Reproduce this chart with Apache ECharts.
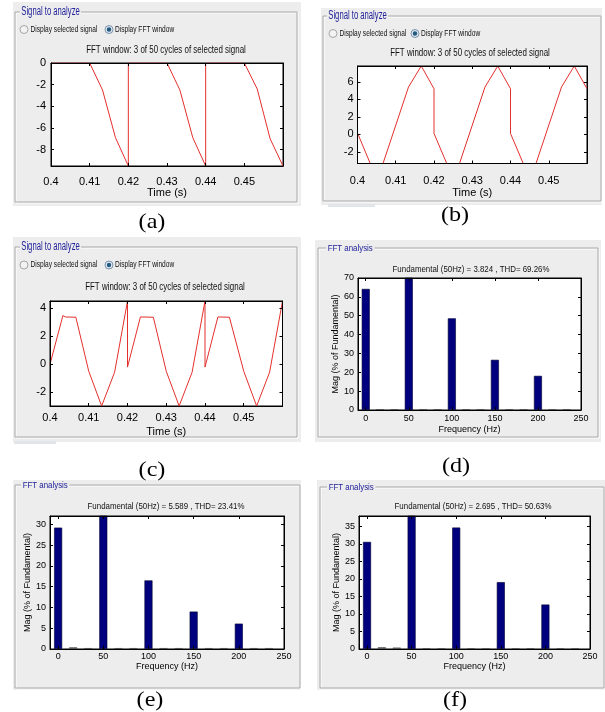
<!DOCTYPE html>
<html><head><meta charset="utf-8">
<script src="https://cdn.jsdelivr.net/npm/echarts@6/dist/echarts.min.js"></script>
<style>html,body{margin:0;padding:0;background:#fff}#c{width:605px;height:712px}</style>
</head><body><div id="c"></div>
<script>
// ---------------- DATA ----------------
// (a) signal in FFT window
const sigA_t = [0.4, 0.41, 0.41333, 0.41667, 0.42, 0.42, 0.43, 0.43333, 0.43667, 0.44, 0.44, 0.45, 0.45333, 0.45667, 0.46];
const sigA_v = [0, 0, -2.5, -6.9, -9.52, 0, 0, -2.5, -6.9, -9.52, 0, 0, -2.4, -7.0, -9.52];
// (b)
const sigB_t = [0.4, 0.40333, 0.40667, 0.41333, 0.41667, 0.42, 0.42, 0.42333, 0.42667, 0.43333, 0.43667, 0.44, 0.44, 0.44333, 0.44667, 0.45333, 0.45667, 0.46];
const sigB_v = [0.15, -3.33, -3.33, 5.4, 7.8, 5.2, 0.1, -3.33, -3.33, 5.4, 7.8, 5.2, 0.1, -3.33, -3.33, 5.4, 7.8, 5.2];
// (c)
const sigC_t = [0.4, 0.40333, 0.404, 0.40667, 0.41, 0.41333, 0.41667, 0.42, 0.42, 0.42333, 0.42667, 0.427, 0.43, 0.43333, 0.43667, 0.44, 0.44, 0.44333, 0.4463, 0.44667, 0.45, 0.45333, 0.45667, 0.46];
const sigC_v = [0, 3.48, 3.38, 3.36, -0.5, -2.98, -0.57, 4.52, -0.2, 3.38, 3.36, 3.3, -0.5, -2.98, -0.57, 4.52, -0.2, 3.38, 3.36, 3.25, -0.5, -2.98, -0.57, 4.52];

const timeTicks = [0.4, 0.41, 0.42, 0.43, 0.44, 0.45];
const yTicksA = [-8, -6, -4, -2, 0];
const yTicksB = [-2, 0, 2, 4, 6];
const yTicksC = [-2, 0, 2, 4];

// FFT spectra (% of fundamental), bins every 16.67 Hz
const fftFreq = [0, 16.67, 33.33, 50, 66.67, 83.33, 100, 116.67, 133.33, 150, 166.67, 183.33, 200, 216.67, 233.33];
const fftD = [64.2, 0.4, 0.4, 100, 0.4, 0.4, 48.6, 0.4, 0.4, 26.6, 0.4, 0.4, 18.1, 0.4, 0.4];
const fftE = [29.2, 0.4, 0.2, 100, 0.2, 0.2, 16.5, 0.2, 0.2, 9.0, 0.2, 0.2, 6.1, 0.2, 0.2];
const fftF = [30.6, 0.5, 0.4, 100, 0.15, 0.15, 34.7, 0.15, 0.15, 19.1, 0.15, 0.15, 12.7, 0.15, 0.15];
const freqTicks = [0, 50, 100, 150, 200, 250];
const yTicksD = [0, 10, 20, 30, 40, 50, 60, 70];
const yTicksE = [0, 5, 10, 15, 20, 25, 30];
const yTicksF = [0, 5, 10, 15, 20, 25, 30, 35];

const sigTitle = 'FFT window: 3 of 50 cycles of selected signal';
const fftTitles = ['Fundamental (50Hz) = 3.824 , THD= 69.26%', 'Fundamental (50Hz) = 5.589 , THD= 23.41%', 'Fundamental (50Hz) = 2.695 , THD= 50.63%'];
const panelLabels = ['(a)', '(b)', '(c)', '(d)', '(e)', '(f)'];

// ---------------- CHART ----------------
const FN = "'Liberation Sans',Arial,sans-serif";
const GFN = "'Liberation Sans',Arial,sans-serif";
const chart = echarts.init(document.getElementById('c'), null, {renderer: 'canvas'});

const grid = [], xAxis = [], yAxis = [], series = [];
const tickBase = {inside: true, length: 3, lineStyle: {color: '#000', width: 1}};
const lineBase = {show: true, onZero: false, lineStyle: {color: '#000', width: 1}};

function addPanel(i, g, xr, yr, xt, yt, fs, xl, yl, xname, xgap, yname, ygap) {
  grid.push({left: g[0], top: g[1], width: g[2], height: g[3], show: true, backgroundColor: '#fff', borderColor: '#000', borderWidth: 1});
  const nameStyle = {fontSize: fs, fontFamily: FN, color: '#000'};
  xAxis.push({gridIndex: i, type: 'value', position: 'bottom', min: xr[0], max: xr[1], z: 10,
    axisLine: lineBase,
    axisTick: Object.assign({customValues: xt}, tickBase),
    axisLabel: {customValues: xt, fontSize: fs, fontFamily: FN, color: '#000', margin: xl},
    splitLine: {show: false}, name: xname, nameLocation: 'middle', nameGap: xgap, nameTextStyle: nameStyle});
  xAxis.push({gridIndex: i, type: 'value', position: 'top', min: xr[0], max: xr[1], z: 10,
    axisLine: lineBase, axisTick: Object.assign({customValues: xt}, tickBase),
    axisLabel: {show: false}, splitLine: {show: false}});
  yAxis.push({gridIndex: i, type: 'value', position: 'left', min: yr[0], max: yr[1], z: 10,
    axisLine: lineBase,
    axisTick: Object.assign({customValues: yt}, tickBase),
    axisLabel: {customValues: yt, fontSize: fs, fontFamily: FN, color: '#000', margin: yl},
    splitLine: {show: false}, name: yname, nameLocation: 'middle', nameGap: ygap, nameTextStyle: nameStyle});
  yAxis.push({gridIndex: i, type: 'value', position: 'right', min: yr[0], max: yr[1], z: 10,
    axisLine: lineBase, axisTick: Object.assign({customValues: yt}, tickBase),
    axisLabel: {show: false}, splitLine: {show: false}});
}

function lineSeries(i, t, v) {
  series.push({type: 'line', xAxisIndex: 2 * i, yAxisIndex: 2 * i, data: t.map((x, k) => [x, v[k]]),
    showSymbol: false, symbol: 'none', lineStyle: {color: '#e3302c', width: 1}, clip: true, silent: true});
}
function barSeries(i, f, v) {
  series.push({type: 'bar', xAxisIndex: 2 * i, yAxisIndex: 2 * i, barWidth: 8, clip: true, silent: true,
    data: f.map((x, k) => ({value: [x, v[k]], itemStyle: v[k] < 1 ? {color: '#5a5a6a', borderColor: '#444', borderWidth: 0.5} : {color: '#00007f', borderColor: '#000033', borderWidth: 0.6}}))});
}

addPanel(0, [51, 63, 232, 103], [0.4, 0.46], [-9.52, 0], timeTicks, yTicksA, 11, 10, 5, 'Time (s)', 21, '', 0);
addPanel(1, [357.5, 66, 229.5, 97.5], [0.4, 0.46], [-3.33, 7.8], timeTicks, yTicksB, 11, 12, 4, 'Time (s)', 20, '', 0);
addPanel(2, [50, 301, 232.5, 105], [0.4, 0.46], [-2.98, 4.52], timeTicks, yTicksC, 11, 6, 4, 'Time (s)', 20, '', 0);
addPanel(3, [358, 278, 223, 132], [-9, 250], [0, 70], freqTicks, yTicksD, 9, 4, 4, 'Frequency (Hz)', 15, 'Mag (% of Fundamental)', 15);
addPanel(4, [50, 516, 234, 133], [-9, 250], [0, 32], freqTicks, yTicksE, 9, 3, 4, 'Frequency (Hz)', 11, 'Mag (% of Fundamental)', 15);
addPanel(5, [359, 516, 231, 133], [-9, 250], [0, 38], freqTicks, yTicksF, 9, 3, 4, 'Frequency (Hz)', 11, 'Mag (% of Fundamental)', 16);

lineSeries(0, sigA_t, sigA_v);
lineSeries(1, sigB_t, sigB_v);
lineSeries(2, sigC_t, sigC_v);
barSeries(3, fftFreq, fftD);
barSeries(4, fftFreq, fftE);
barSeries(5, fftFreq, fftF);

// ---------------- DECORATION (GUI frames) ----------------
const G = [];
const PANEL_BG = '#ededed';
function rect(x, y, w, h, fill, z) { G.push({type: 'rect', z: z, shape: {x: x, y: y, width: w, height: h}, style: {fill: fill}}); }
function frame(x, y, w, h) {
  G.push({type: 'rect', z: -5, shape: {x: x + 1, y: y + 1, width: w, height: h}, style: {fill: null, stroke: '#ffffff', lineWidth: 1}});
  G.push({type: 'rect', z: -4, shape: {x: x, y: y, width: w, height: h}, style: {fill: null, stroke: '#a8a8a8', lineWidth: 1}});
}
function txt(x, y, s, size, color, sx, align, family, bg) {
  G.push({type: 'text', x: x, y: y, scaleX: sx, z: 10,
    style: {text: s, fontSize: size, fontFamily: family || GFN, fill: color, align: align, verticalAlign: 'middle',
      textAlign: align, textVerticalAlign: 'middle', backgroundColor: bg || 'transparent', padding: bg ? [0, 2] : 0}});
}
function radio(cx, cy, sel) {
  G.push({type: 'circle', z: 10, shape: {cx: cx, cy: cy, r: 4}, style: {fill: sel ? '#dfe9f3' : '#f2f2f2', stroke: sel ? '#7c93aa' : '#a6a6a6', lineWidth: 1}});
  if (sel) G.push({type: 'circle', z: 11, shape: {cx: cx, cy: cy, r: 2.2}, style: {fill: '#23587f'}});
}

// panel backgrounds
rect(13, 2, 288, 204, PANEL_BG, -10);
rect(321, 8, 281, 197, PANEL_BG, -10);
rect(13, 237, 288, 205, PANEL_BG, -10);
rect(315, 240, 286, 202, PANEL_BG, -10);
rect(13, 480, 288, 210, PANEL_BG, -10);
rect(317, 480, 288, 210, PANEL_BG, -10);
rect(328, 204, 47, 3, '#e2e6ea', -10);
rect(14, 441, 42, 3, '#e2e6ea', -10);

frame(15, 12, 282, 190);
frame(323, 16, 278, 185);
frame(15, 247, 282, 190);
frame(318, 248, 280, 189);
frame(15, 485, 285, 203);
frame(320, 487, 284, 201);

// group titles
const BLUE = '#22229a';
txt(20, 12, 'Signal to analyze', 12, BLUE, 0.64, 'left', GFN, PANEL_BG);
txt(327, 16, 'Signal to analyze', 12, BLUE, 0.64, 'left', GFN, PANEL_BG);
txt(20, 247, 'Signal to analyze', 12, BLUE, 0.64, 'left', GFN, PANEL_BG);
txt(326, 248, 'FFT analysis', 9.5, BLUE, 0.83, 'left', GFN, PANEL_BG);
txt(21, 485, 'FFT analysis', 9.5, BLUE, 0.83, 'left', GFN, PANEL_BG);
txt(327, 487, 'FFT analysis', 9.5, BLUE, 0.83, 'left', GFN, PANEL_BG);

// radio rows
[[24, 109, 29.5], [333, 415, 33.5], [24, 109, 265]].forEach(function (r) {
  radio(r[0], r[2], false);
  radio(r[1], r[2], true);
  txt(r[0] + 6.5, r[2], 'Display selected signal', 9, '#111', 0.73, 'left');
  txt(r[1] + 6, r[2], 'Display FFT window', 9, '#111', 0.73, 'left');
});

// plot titles
txt(166, 50, sigTitle, 11.5, '#111', 0.69, 'center');
txt(470, 53, sigTitle, 11.5, '#111', 0.69, 'center');
txt(165, 287, sigTitle, 11.5, '#111', 0.69, 'center');
txt(471, 269, fftTitles[0], 9.5, '#111', 0.83, 'center');
txt(166, 506.5, fftTitles[1], 9.5, '#111', 0.83, 'center');
txt(473, 506.5, fftTitles[2], 9.5, '#111', 0.83, 'center');

// sub-figure labels
const LFN = "'Liberation Serif','Times New Roman',serif";
[[152, 222], [455, 215], [152, 470], [456, 466], [150, 700], [455, 700]].forEach(function (p, k) {
  txt(p[0], p[1], panelLabels[k], 21, '#000', 1.15, 'center', LFN);
});

chart.setOption({
  animation: false,
  backgroundColor: '#ffffff',
  grid: grid, xAxis: xAxis, yAxis: yAxis, series: series,
  graphic: {elements: G}
});
</script>
</body></html>
